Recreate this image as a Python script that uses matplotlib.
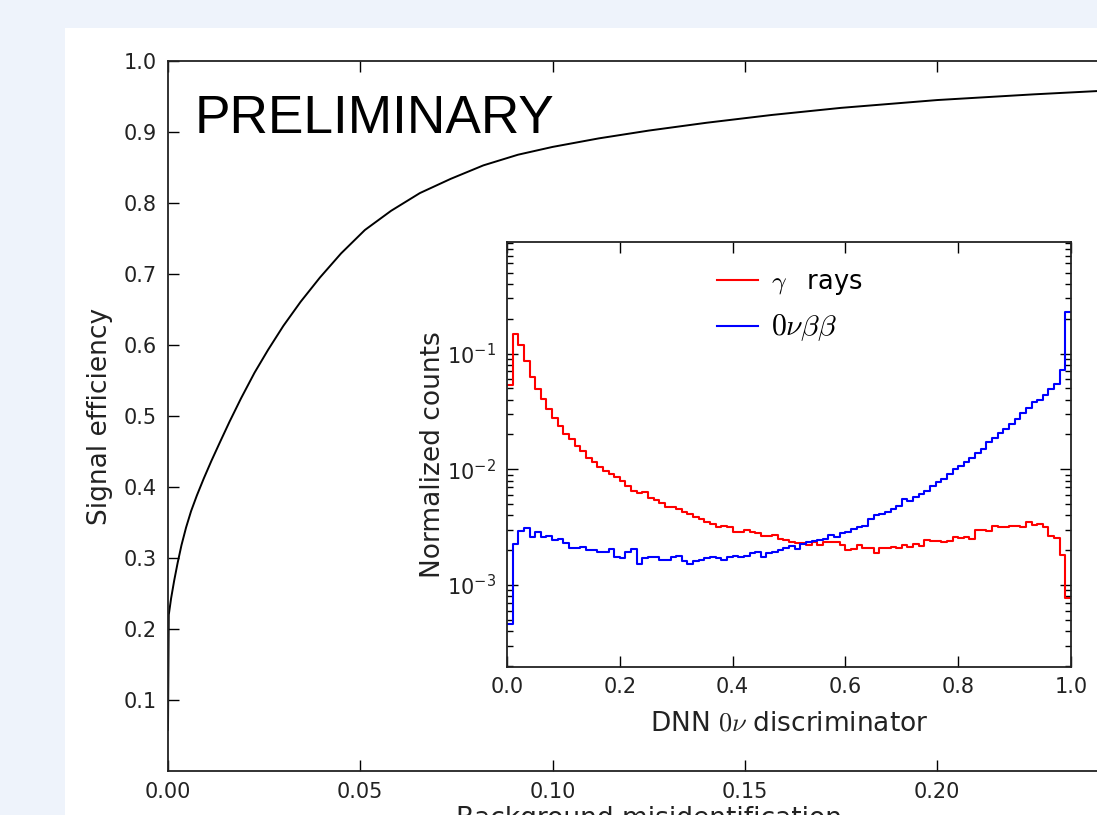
import matplotlib
matplotlib.use('Agg')
import matplotlib.pyplot as plt
from matplotlib.patches import Rectangle
import numpy as np

# ROC curve: background misidentification vs signal efficiency
bkg_misid = [0.0, 0.0002, 0.0008, 0.0016, 0.0025, 0.0035, 0.0047, 0.0060, 0.0075, 0.0093,
             0.0113, 0.0135, 0.0160, 0.0190, 0.0225, 0.0260, 0.0300, 0.0345, 0.0395, 0.0450,
             0.0512, 0.0580, 0.0655, 0.0735, 0.0820, 0.0910, 0.1000, 0.1120, 0.1250, 0.1400,
             0.1570, 0.1750, 0.2000, 0.2250, 0.2500]
sig_eff = [0.058, 0.220, 0.243, 0.268, 0.293, 0.318, 0.343, 0.366, 0.388, 0.412,
           0.437, 0.463, 0.492, 0.525, 0.561, 0.593, 0.627, 0.661, 0.695, 0.729,
           0.762, 0.789, 0.814, 0.834, 0.853, 0.868, 0.879, 0.891, 0.902, 0.913,
           0.924, 0.934, 0.945, 0.953, 0.960]

# inset: DNN discriminator histograms, 100 bins on [0, 1]
gamma_counts = [0.054, 0.147, 0.118, 0.0857, 0.0622, 0.0497, 0.0406, 0.0333, 0.0276, 0.0238,
                0.0202, 0.0182, 0.0160, 0.0143, 0.0126, 0.0116, 0.0105, 0.0097, 0.0091, 0.0085,
                0.0079, 0.0072, 0.0065, 0.0062, 0.0064, 0.0057, 0.0054, 0.0051, 0.0047, 0.0047,
                0.00455, 0.00425, 0.0041, 0.0039, 0.0037, 0.0035, 0.0034, 0.0032, 0.00326, 0.0032,
                0.0029, 0.00285, 0.0030, 0.0029, 0.0028, 0.00265, 0.00263, 0.0027, 0.0025, 0.00246,
                0.00234, 0.0023, 0.0023, 0.00224, 0.00234, 0.00224, 0.00234, 0.00234, 0.00234, 0.0022,
                0.0020, 0.00205, 0.0022, 0.0021, 0.0021, 0.00188, 0.0021, 0.0021, 0.00215, 0.0021,
                0.0022, 0.00215, 0.00225, 0.00219, 0.00246, 0.0024, 0.0024, 0.00235, 0.0024, 0.0026,
                0.00255, 0.0026, 0.0025, 0.00297, 0.0030, 0.00292, 0.00322, 0.0032, 0.0032, 0.00326,
                0.00326, 0.0032, 0.00353, 0.0033, 0.0034, 0.0032, 0.00267, 0.00253, 0.00181, 0.00078]
bb0nu_counts = [0.000465, 0.00228, 0.00295, 0.0031, 0.0026, 0.00285, 0.0026, 0.00267, 0.00243, 0.0025,
                0.0023, 0.00211, 0.00211, 0.00215, 0.00199, 0.00199, 0.00194, 0.00194, 0.00206, 0.00176,
                0.00172, 0.00195, 0.00203, 0.00152, 0.00172, 0.00176, 0.00176, 0.00165, 0.00165, 0.00176,
                0.0018, 0.0016, 0.00152, 0.0016, 0.00165, 0.0017, 0.00176, 0.0017, 0.00165, 0.00175,
                0.00178, 0.00175, 0.0018, 0.00188, 0.00195, 0.00176, 0.0019, 0.00195, 0.002, 0.0021,
                0.00218, 0.00204, 0.00226, 0.00234, 0.0024, 0.00245, 0.0025, 0.0027, 0.0026, 0.0028,
                0.0029, 0.00305, 0.0032, 0.00326, 0.0037, 0.0040, 0.0041, 0.00425, 0.0045, 0.0048,
                0.0055, 0.0053, 0.0058, 0.0061, 0.0065, 0.0072, 0.0078, 0.0083, 0.0091, 0.0100,
                0.0107, 0.0116, 0.0126, 0.0138, 0.0151, 0.0171, 0.0185, 0.0206, 0.0223, 0.0246,
                0.0272, 0.0307, 0.0337, 0.0380, 0.0401, 0.0440, 0.0490, 0.0548, 0.0726, 0.2275]

main_xticks = [0.0, 0.05, 0.10, 0.15, 0.20, 0.25]
main_yticks = [0.1, 0.2, 0.3, 0.4, 0.5, 0.6, 0.7, 0.8, 0.9, 1.0]
inset_xticks = [0.0, 0.2, 0.4, 0.6, 0.8, 1.0]

plt.rcParams['font.family'] = 'DejaVu Sans'
plt.rcParams['mathtext.fontset'] = 'cm'

W, H = 1097, 815
fig = plt.figure(figsize=(W / 100, H / 100), dpi=100)
fig.patch.set_facecolor('#eef3fb')
fig.add_artist(Rectangle((65 / W, 0), 1, (H - 28) / H, transform=fig.transFigure,
                         facecolor='white', edgecolor='none', zorder=0))

txt = '#222222'

# main axes (runs past the right edge, like the screenshot)
ax = fig.add_axes([168 / W, 44 / H, 961.5 / W, 710 / H])
ax.plot(bkg_misid, sig_eff, color='black', lw=1.4)
ax.set_xlim(0, 0.25)
ax.set_ylim(0, 1)
ax.set_xticks(main_xticks)
ax.set_xticklabels(['%.2f' % v for v in main_xticks])
ax.set_yticks(main_yticks)
ax.set_yticklabels(['%.1f' % v for v in main_yticks])
ax.tick_params(direction='in', top=True, right=True, length=8, width=1,
               labelsize=15, labelcolor=txt)
ax.tick_params(axis='x', pad=8)
ax.tick_params(axis='y', pad=8)
for s in ax.spines.values():
    s.set_linewidth(1.3)
    s.set_color('#222222')
ax.set_xlabel('Background misidentification', fontsize=19, color=txt, labelpad=3)
ax.set_ylabel('Signal efficiency', fontsize=19, color=txt, labelpad=7.5)
ax.text(0.028, 0.899, 'PRELIMINARY', family='Liberation Sans', fontsize=38.3,
        transform=ax.transAxes, va='baseline', color='black')

# inset
ins = fig.add_axes([507 / W, (H - 667) / H, 564 / W, 425 / H])
edges = np.linspace(0, 1, len(gamma_counts) + 1)
ins.step(edges, gamma_counts + [gamma_counts[-1]], where='post', color='red', lw=1.5,
         label=r'$\gamma\quad$rays')
ins.step(edges, bb0nu_counts + [bb0nu_counts[-1]], where='post', color='blue', lw=1.5,
         label=r'$0\nu\beta\beta$')
ins.set_yscale('log')
ins.set_xlim(0, 1)
ins.set_ylim(1.96e-4, 0.92)
ins.set_xticks(inset_xticks)
ins.set_xticklabels(['%.1f' % v for v in inset_xticks])
ins.set_yticks([1e-3, 1e-2, 1e-1])
ins.set_yticklabels([r'$\mathdefault{10^{-3}}$', r'$\mathdefault{10^{-2}}$', r'$\mathdefault{10^{-1}}$'])
ins.tick_params(which='major', direction='in', top=True, right=True, length=8, width=1,
                labelsize=15, labelcolor=txt)
ins.tick_params(which='minor', direction='in', top=False, right=True, left=True, length=4, width=1)
ins.tick_params(axis='x', which='minor', bottom=False, top=False)
ins.tick_params(axis='x', pad=7)
ins.tick_params(axis='y', pad=8)
for s in ins.spines.values():
    s.set_linewidth(1.3)
    s.set_color('#222222')
ins.set_xlabel(r'DNN $0\nu$ discriminator', fontsize=19, color=txt, labelpad=10)
ins.set_ylabel('Normalized counts', fontsize=19, color=txt, labelpad=0.5)
leg = ins.legend(loc='upper left', bbox_to_anchor=(0.332, 0.991), frameon=False, fontsize=18.5,
                 handlelength=1.6, handletextpad=0.5, labelspacing=0.6)
leg.get_texts()[1].set_fontsize(21.5)

fig.savefig('out.png', dpi=100, facecolor=fig.get_facecolor())
